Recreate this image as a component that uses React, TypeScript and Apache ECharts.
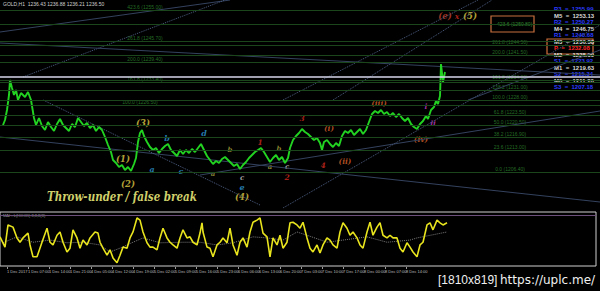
import React, { useEffect, useRef } from "react";
import * as echarts from "echarts";

// ---- price path (time index, price) ----
const pricePath: [number, number][] = [
  [3, 1220.5], [5, 1222], [7, 1225], [9, 1229.5], [10, 1234], [12, 1231.6], [14, 1229.5], [16, 1231], [18, 1228],
  [21, 1230.1], [25, 1228.9], [28, 1230.4], [31, 1228], [34, 1222.6], [36, 1220.5], [39, 1222.6], [42, 1220.2],
  [45, 1219], [48, 1221.4], [51, 1219.9], [54, 1218.7], [57, 1220.8], [60, 1222.3], [63, 1220.5], [66, 1219.6],
  [69, 1218.7], [72, 1220.8], [75, 1219.9], [78, 1222.6], [81, 1221.4], [84, 1220.2], [87, 1221.1], [90, 1219.6],
  [93, 1220.5], [96, 1218.7], [99, 1219.9], [102, 1219], [105, 1216.9], [108, 1214.5], [111, 1212.4], [113, 1210],
  [116, 1209.1], [119, 1207.9], [122, 1208.5], [125, 1207], [128, 1207.9], [131, 1206.7], [134, 1208.8],
  [136, 1210.6], [138, 1215.4], [140, 1218.1], [142, 1219], [144, 1217.2], [147, 1215.4], [150, 1213.9],
  [153, 1213], [156, 1213.6], [159, 1212.1], [162, 1213.3], [165, 1214.2], [168, 1214.8], [171, 1213],
  [174, 1212.1], [177, 1211.2], [180, 1213], [183, 1211.8], [186, 1213], [189, 1212.1], [192, 1213.3],
  [195, 1212.4], [198, 1213.6], [201, 1214.8], [204, 1213], [207, 1211.2], [210, 1210], [213, 1208.8],
  [216, 1209.7], [219, 1209.1], [222, 1210.3], [225, 1210.9], [228, 1210], [231, 1209.1], [234, 1208.2],
  [237, 1208.8], [240, 1207.3], [243, 1208.5], [246, 1209.4], [249, 1210.6], [252, 1211.5], [255, 1212.4],
  [258, 1213], [261, 1213.6], [264, 1212.4], [267, 1210.9], [270, 1209.4], [273, 1210.6], [276, 1211.5],
  [279, 1210], [282, 1210.9], [285, 1209.1], [288, 1210.6], [290, 1213.6], [293, 1216], [296, 1217.2],
  [299, 1218.1], [302, 1219.3], [305, 1218.4], [308, 1217.8], [311, 1216.9], [314, 1216], [317, 1216.6],
  [320, 1215.1], [322, 1213], [324, 1215.4], [327, 1216], [330, 1214.8], [333, 1213.9], [336, 1215.1],
  [339, 1214.2], [342, 1217.2], [345, 1218.7], [348, 1218.1], [351, 1219], [354, 1217.5], [357, 1218.4],
  [360, 1219.3], [363, 1217.8], [366, 1219], [369, 1221.4], [372, 1223.8], [375, 1224.7], [378, 1224.1],
  [381, 1225], [384, 1223.8], [387, 1224.4], [390, 1223.2], [393, 1224.1], [396, 1222.9], [399, 1223.8],
  [402, 1222.6], [405, 1221.7], [408, 1222.6], [411, 1220.8], [414, 1219.9], [417, 1219.3], [420, 1220.8],
  [423, 1221.7], [426, 1223.2], [428, 1222.3], [431, 1225], [434, 1225.9], [436, 1227.7], [438, 1226.8],
  [440, 1229.2], [441, 1238.8], [443, 1233.4], [445, 1236.4],
];

// ---- oscillator (time index, value 0..100) ----
const oscValues: [number, number][] = [
  [0, 54], [5, 35], [8, 76], [13, 72], [17, 52], [20, 44], [23, 52], [28, 61], [30, 39], [33, 17], [37, 17],
  [42, 44], [47, 70], [50, 44], [53, 39], [57, 57], [60, 63], [63, 44], [67, 26], [70, 33], [73, 67], [77, 52],
  [80, 33], [83, 48], [87, 39], [90, 52], [95, 63], [98, 61], [100, 44], [103, 33], [107, 20], [110, 30],
  [113, 15], [117, 6], [120, 20], [123, 35], [127, 33], [130, 52], [133, 63], [137, 89], [140, 85], [143, 63],
  [147, 43], [150, 35], [153, 35], [157, 30], [160, 52], [163, 70], [167, 52], [170, 44], [173, 39], [177, 33],
  [180, 52], [183, 67], [187, 52], [190, 54], [193, 44], [197, 39], [200, 61], [202, 80], [203, 63], [207, 35],
  [210, 33], [213, 17], [217, 39], [220, 44], [223, 52], [227, 43], [230, 70], [233, 39], [237, 20], [240, 44],
  [243, 52], [247, 35], [250, 63], [253, 81], [257, 85], [260, 89], [263, 61], [267, 54], [270, 17], [273, 52],
  [277, 39], [280, 57], [283, 33], [287, 44], [290, 80], [293, 81], [297, 76], [300, 70], [303, 81], [307, 52],
  [310, 33], [313, 26], [317, 39], [320, 24], [323, 39], [327, 52], [330, 48], [333, 39], [337, 33], [340, 63],
  [343, 80], [347, 70], [350, 57], [353, 63], [357, 52], [360, 39], [363, 33], [367, 63], [370, 81], [373, 57],
  [377, 72], [380, 80], [383, 57], [387, 52], [390, 57], [393, 52], [397, 52], [400, 33], [403, 26], [407, 43],
  [410, 35], [413, 26], [417, 17], [420, 39], [423, 44], [427, 76], [430, 80], [433, 67], [437, 85], [440, 80],
  [443, 76], [447, 80],
];
const oscSignal: [number, number][] = [
  [3, 43], [17, 54], [33, 44], [50, 48], [67, 43], [83, 44], [100, 39], [110, 26], [120, 33], [133, 44],
  [143, 52], [160, 43], [183, 44], [200, 44], [217, 39], [233, 43], [253, 54], [267, 52], [283, 48], [297, 63],
  [307, 57], [327, 44], [367, 54], [387, 44], [410, 48], [417, 52], [447, 63],
];
const oscLevel = 94;

// ---- horizontal fib levels ----
const levelPrices = [1255, 1250.8, 1245.7, 1244.5, 1241.5, 1239.4, 1234, 1233.4, 1231, 1228, 1226.5, 1223.5, 1220.5, 1216.9, 1213, 1206.4];
const levelTexts = ["423.6 (1255.00)", "", "261.8 (1245.70)", "261.8 (1244.50)", "200.0 (1241.50)", "200.0 (1239.40)",
  "161.8 (1234.00)", "161.8 (1233.40)", "138.2 (1231.00)", "100.0 (1228.00)", "100.0 (1226.50)", "61.8 (1223.50)",
  "50.0 (1220.50)", "38.2 (1216.90)", "23.6 (1213.00)", "0.0 (1206.40)"];
const levelLabelAt = [145, 0, 145, 510, 510, 145, 510, 145, 510, 510, 140, 510, 510, 510, 510, 510];
const keyLevel = 1234.9;
const targetText = "423.6 (1250.80)";

// ---- trend lines ----
const trendLines: [number, number][][] = [
  [[0, 1248.4], [230, 1258]],
  [[23, 1234.9], [225, 1258]],
  [[0, 1245.1], [600, 1235.5]],
  [[283, 1228], [478, 1258]],
  [[333, 1228], [492, 1258]],
  [[200, 1205.5], [600, 1224.7]],
  [[283, 1195.6], [600, 1250.5]],
  [[468, 1228], [600, 1243]],
  [[0, 1216.9], [600, 1197.4]],
  [[43, 1228], [260, 1196.5]],
];
const trendDashed = [false, true, false, true, true, false, true, false, false, true];

// ---- wave labels ----
const waveTexts = ["(1)", "(2)", "(3)", "a", "b", "c", "d", "e", "(4)", "a", "b", "c", "1", "a", "b", "c", "2", "3",
  "(i)", "4", "(ii)", "(iii)", "(iv)", "i", "ii", "(e)", "x", "(5)"];
const waveX = [123, 128, 143, 152, 167, 181, 204, 242, 242, 213, 230, 242, 260, 270, 279, 287, 287, 302, 329, 323,
  345, 379, 421, 426, 433, 445, 457, 470];
const wavePrice = [1210.3, 1202.8, 1221.1, 1207.3, 1216.6, 1206.7, 1218.1, 1201.9, 1199.0, 1206.1, 1213.3, 1204.7,
  1215.4, 1208.2, 1213.6, 1208.0, 1204.7, 1222.6, 1219.6, 1208.5, 1209.7, 1227.1, 1216.3, 1226.2, 1221.1,
  1253.2, 1253.2, 1253.2];
const waveDegree = ["Y", "Y", "Y", "B", "B", "B", "B", "B", "Y", "O", "O", "W", "R", "O", "O", "W", "R", "R",
  "N", "R", "N", "N", "N", "M", "M", "E", "R", "Y"];

// ---- pivot list ----
const pivotNames = ["R3", "M5", "R2", "M4", "R1", "M3", "P", "M2", "S1", "M1", "S2", "M0", "S3"];
const pivotValues = [1255.99, 1253.13, 1250.27, 1246.75, 1240.68, 1236.38, 1232.08, 1228.0, 1223.92, 1219.63, 1215.34, 1211.26, 1207.18];

// ---- time axis labels ----
const timeLabels = ["1 Dec 2017", "1 Dec 07:00", "1 Dec 14:00", "1 Dec 21:00", "4 Dec 05:00", "4 Dec 12:00",
  "4 Dec 19:00", "5 Dec 02:00", "5 Dec 09:00", "5 Dec 16:00", "5 Dec 23:00", "6 Dec 06:00", "6 Dec 13:00",
  "6 Dec 20:00", "7 Dec 03:00", "7 Dec 10:00", "7 Dec 17:00", "8 Dec 00:00", "8 Dec 07:00", "8 Dec 14:00", "8 Dec 21:00"];

const headerText = "GOLD,H1  1236.43 1236.88 1236.21 1236.50";
const oscTitle = "MAI - L(HOOK) 8,8,8(8)";
const captionText = "Throw-under / false break";
const watermark1 = "[1810x819]";
const watermark2 = "https://uplc.me/";

const degreeColor: Record<string, string> = {
  Y: "#e0cf45", B: "#2f9ad8", O: "#a8a43c", W: "#c8c8c8", R: "#d42a1e", N: "#d8602a", M: "#c23ec8", E: "#c8402a",
};
const degreeSize: Record<string, number> = { Y: 8.5, B: 8, O: 7, W: 7, R: 7.5, N: 7.5, M: 7.5, E: 8.5 };

export default function App() {
  const ref = useRef<HTMLDivElement>(null);
  useEffect(() => {
    const chart = echarts.init(ref.current!, undefined, { renderer: "svg" });
    const series: any[] = [];
    series.push({
      type: "line", xAxisIndex: 0, yAxisIndex: 0, data: [], silent: true,
      markLine: {
        symbol: "none", silent: true, animation: false, label: { show: false },
        data: [
          ...levelPrices.map((p) => ({ yAxis: p, lineStyle: { color: "#1b451b", width: 1, type: "solid" } })),
          { yAxis: keyLevel, lineStyle: { color: "#d6d6ec", width: 1.5, type: "solid" } },
        ],
      },
    });
    trendLines.forEach((pts, i) => {
      series.push({
        type: "line", xAxisIndex: 0, yAxisIndex: 0, data: pts, showSymbol: false, silent: true,
        lineStyle: { color: trendDashed[i] ? "#4c5d80" : "#34425e", width: 1, type: trendDashed[i] ? "dotted" : "solid" },
      });
    });
    series.push({
      type: "scatter", xAxisIndex: 0, yAxisIndex: 0, symbolSize: 0, silent: true,
      data: levelPrices.map((p, i) => ({ value: [levelLabelAt[i], p], name: levelTexts[i] }))
        .filter((d) => d.name !== ""),
      label: { show: true, position: "inside", formatter: (d: any) => d.name, color: "#2f8a2f", fontSize: 5, fontFamily: "Liberation Sans", offset: [0, -3] },
    });
    series.push({
      type: "line", xAxisIndex: 0, yAxisIndex: 0, data: pricePath, showSymbol: false, silent: true,
      lineStyle: { color: "#22d322", width: 1.9 },
    });
    series.push({
      type: "scatter", xAxisIndex: 0, yAxisIndex: 0, symbolSize: 0, silent: true,
      data: waveTexts.map((t, i) => ({
        value: [waveX[i], wavePrice[i]], name: t,
        label: { color: degreeColor[waveDegree[i]], fontSize: degreeSize[waveDegree[i]] },
      })),
      label: { show: true, position: "inside", formatter: (d: any) => d.name, fontStyle: "italic", fontWeight: "bold", fontFamily: "DejaVu Serif" },
    });
    series.push({
      type: "line", xAxisIndex: 1, yAxisIndex: 1, data: oscSignal, showSymbol: false, silent: true,
      lineStyle: { color: "#7a7a7a", width: 1, type: "dotted" },
    });
    series.push({
      type: "line", xAxisIndex: 1, yAxisIndex: 1, data: oscValues, showSymbol: false, silent: true,
      lineStyle: { color: "#e8e41e", width: 1.6 },
      markLine: {
        symbol: "none", silent: true, label: { show: false },
        data: [{ yAxis: oscLevel }], lineStyle: { color: "#6d4f7c", width: 1, type: "solid" },
      },
    });

    const pivotGraphics: any[] = pivotNames.map((n, i) => {
      const isP = n === "P";
      const isM = n.startsWith("M");
      return {
        type: "text", left: 554, top: 6 + i * 6.5,
        style: {
          text: `${n}  =  ${pivotValues[i].toFixed(2)}`,
          fill: isP ? "#ff2a2a" : isM ? "#d8d8d8" : "#2b3cff",
          fontSize: 6, fontFamily: "Liberation Sans", fontWeight: "bold",
        },
      };
    });

    chart.setOption({
      animation: false,
      backgroundColor: "#000000",
      grid: [
        { left: 0, top: 0, width: 600, height: 208 },
        { left: 0, top: 212, width: 596, height: 54, show: true, borderColor: "#cfcfcf", borderWidth: 1, backgroundColor: "transparent" },
        { left: 7, top: 266, width: 420, height: 1 },
      ],
      xAxis: [
        { gridIndex: 0, type: "value", min: 0, max: 600, show: false },
        { gridIndex: 1, type: "value", min: 0, max: 596, show: false },
        {
          gridIndex: 2, type: "value", min: 0, max: 420, interval: 21, position: "bottom",
          axisLine: { show: false }, splitLine: { show: false },
          axisTick: { show: true, length: 2, lineStyle: { color: "#9a9a9a" } },
          axisLabel: {
            show: true, align: "left", margin: 2, fontSize: 4, color: "#bdbdbd", fontFamily: "Liberation Sans",
            formatter: (v: number) => timeLabels[Math.round(v / 21)] ?? "",
          },
        },
      ],
      yAxis: [
        { gridIndex: 0, type: "value", min: 1195.6, max: 1258, show: false },
        { gridIndex: 1, type: "value", min: 0, max: 100, show: false },
        { gridIndex: 2, type: "value", min: 0, max: 1, show: false },
      ],
      series,
      graphic: [
        { type: "text", left: 3, top: 1, style: { text: headerText, fill: "#d0d0d0", fontSize: 5, fontFamily: "Liberation Sans" } },
        { type: "text", left: 3, top: 213, style: { text: oscTitle, fill: "#a0a0a0", fontSize: 4, fontFamily: "Liberation Sans" } },
        { type: "rect", shape: { x: 491, y: 16, width: 43, height: 16 }, style: { fill: "none", stroke: "#c8703e", lineWidth: 1.2 } },
        { type: "text", left: 497, top: 21, style: { text: targetText, fill: "#2f8a2f", fontSize: 5, fontFamily: "Liberation Sans" } },
        { type: "rect", shape: { x: 547, y: 39, width: 46, height: 15 }, style: { fill: "none", stroke: "#d0703a", lineWidth: 1.2 } },
        ...pivotGraphics,
        {
          type: "text", x: 47, y: 191, scaleX: 0.86,
          style: { text: captionText, fill: "#cfcf6a", fontSize: 12, fontStyle: "italic", fontWeight: "bold", fontFamily: "DejaVu Serif" },
        },
        { type: "text", left: 438, top: 274, style: { text: watermark1, fill: "#f0f0f0", fontSize: 12, fontFamily: "Liberation Sans" } },
        { type: "text", left: 500, top: 274, style: { text: watermark2, fill: "#f0f0f0", fontSize: 12, fontFamily: "DejaVu Sans" } },
      ],
    });
    return () => chart.dispose();
  }, []);
  return <div ref={ref} style={{ position: "fixed", left: 0, top: 0, width: 600, height: 291 }} />;
}
